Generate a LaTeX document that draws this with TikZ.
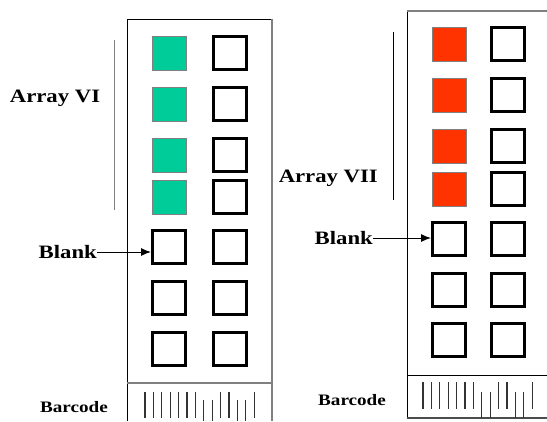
\documentclass[tikz,border=0pt]{standalone}
\usepackage{fontspec}
\setmainfont{Liberation Serif}
\newfontfamily\widefont[FakeStretch=1.2]{Liberation Serif}
\usetikzlibrary{positioning,arrows.meta}
\definecolor{jade}{HTML}{00CC99}
\definecolor{scarlet}{HTML}{FF3300}
\tikzset{
  well/.style={draw=black, line width=3bp, minimum size=33bp, inner sep=0pt},
  hit/.style={draw=gray, line width=0.8bp, minimum size=34bp, inner sep=0pt},
  lbl/.style={font=\widefont\bfseries\fontsize{19}{19}\selectfont, inner sep=0pt},
  small lbl/.style={font=\widefont\bfseries\fontsize{16}{16}\selectfont, inner sep=0pt},
  bar/.style={black!80, line width=1.3bp},
}

\begin{document}
\begin{tikzpicture}[x=1bp, y=-1bp]
    \useasboundingbox (0,0) rectangle (547,421);

    % Strip VI (left)
    \draw[black, line width=1bp] (127,421) -- (127,19) -- (272,19);
    \draw[gray, line width=2bp] (272,19) -- (272,421);
    \draw[gray, line width=1.5bp] (127,383) -- (272,383);

    \foreach \y [count=\r] in {53,104,155,197} {
        \node[hit, fill=jade] (g\r) at (169,\y) {};
    }
    \foreach \y [count=\r from 5] in {247,298,349} {
        \node[well] (g\r) at (169,\y) {};
    }
    \foreach \y [count=\r] in {53,104,155,197,247,298,349} {
        \node[well] (h\r) at (229.5,\y) {};
    }

    % Barcode VI
    \foreach \i in {0,...,6,9,10,13} {
        \draw[bar] (145+8.4*\i,392) -- ++(0,26);
    }
    \foreach \i in {7,8,11,12} {
        \draw[bar] (145+8.4*\i,400) -- ++(0,21);
    }

    % Labels VI
    \draw[gray, line width=1bp] (114,40) -- (114,210);
    \node[lbl] (arrVI) at (55,98) {Array VI};
    \node[lbl, anchor=east] (blankVI) at (97,252) {Blank};
    \draw[line width=1bp, -{Latex[length=10bp,width=8bp]}] (blankVI.east) -- (blankVI.east -| g5.west);
    \node[small lbl] (codeVI) at (74,407) {Barcode};

    % Strip VII (right)
    \draw[black, line width=1bp] (407,418) -- (407,11);
    \draw[gray, line width=1.5bp] (407,11) -- (547,11);
    \draw[black, line width=1bp] (407,375) -- (547,375);
    \draw[black!70, line width=2bp] (407,418) -- (547,418);

    \foreach \y [count=\r] in {44,95,146,189} {
        \node[hit, fill=scarlet] (s\r) at (449,\y) {};
    }
    \foreach \y [count=\r from 5] in {239,290,340} {
        \node[well] (s\r) at (449,\y) {};
    }
    \foreach \y [count=\r] in {44,95,146,189,239,290,340} {
        \node[well] (t\r) at (508,\y) {};
    }

    % Barcode VII
    \foreach \i in {0,...,6,9,10,13} {
        \draw[bar] (423+8.4*\i,382) -- ++(0,27);
    }
    \foreach \i in {7,8,11,12} {
        \draw[bar] (423+8.4*\i,392) -- ++(0,26);
    }

    % Labels VII
    \draw[black, line width=1bp] (393,32) -- (393,200);
    \node[lbl, anchor=east] (arrVII) at (378,178) {Array VII};
    \node[lbl, anchor=east] (blankVII) at (373,238) {Blank};
    \draw[line width=1bp, -{Latex[length=10bp,width=8bp]}] (blankVII.east) -- (blankVII.east -| s5.west);
    \node[small lbl] (codeVII) at (352,400) {Barcode};
\end{tikzpicture}
\end{document}
